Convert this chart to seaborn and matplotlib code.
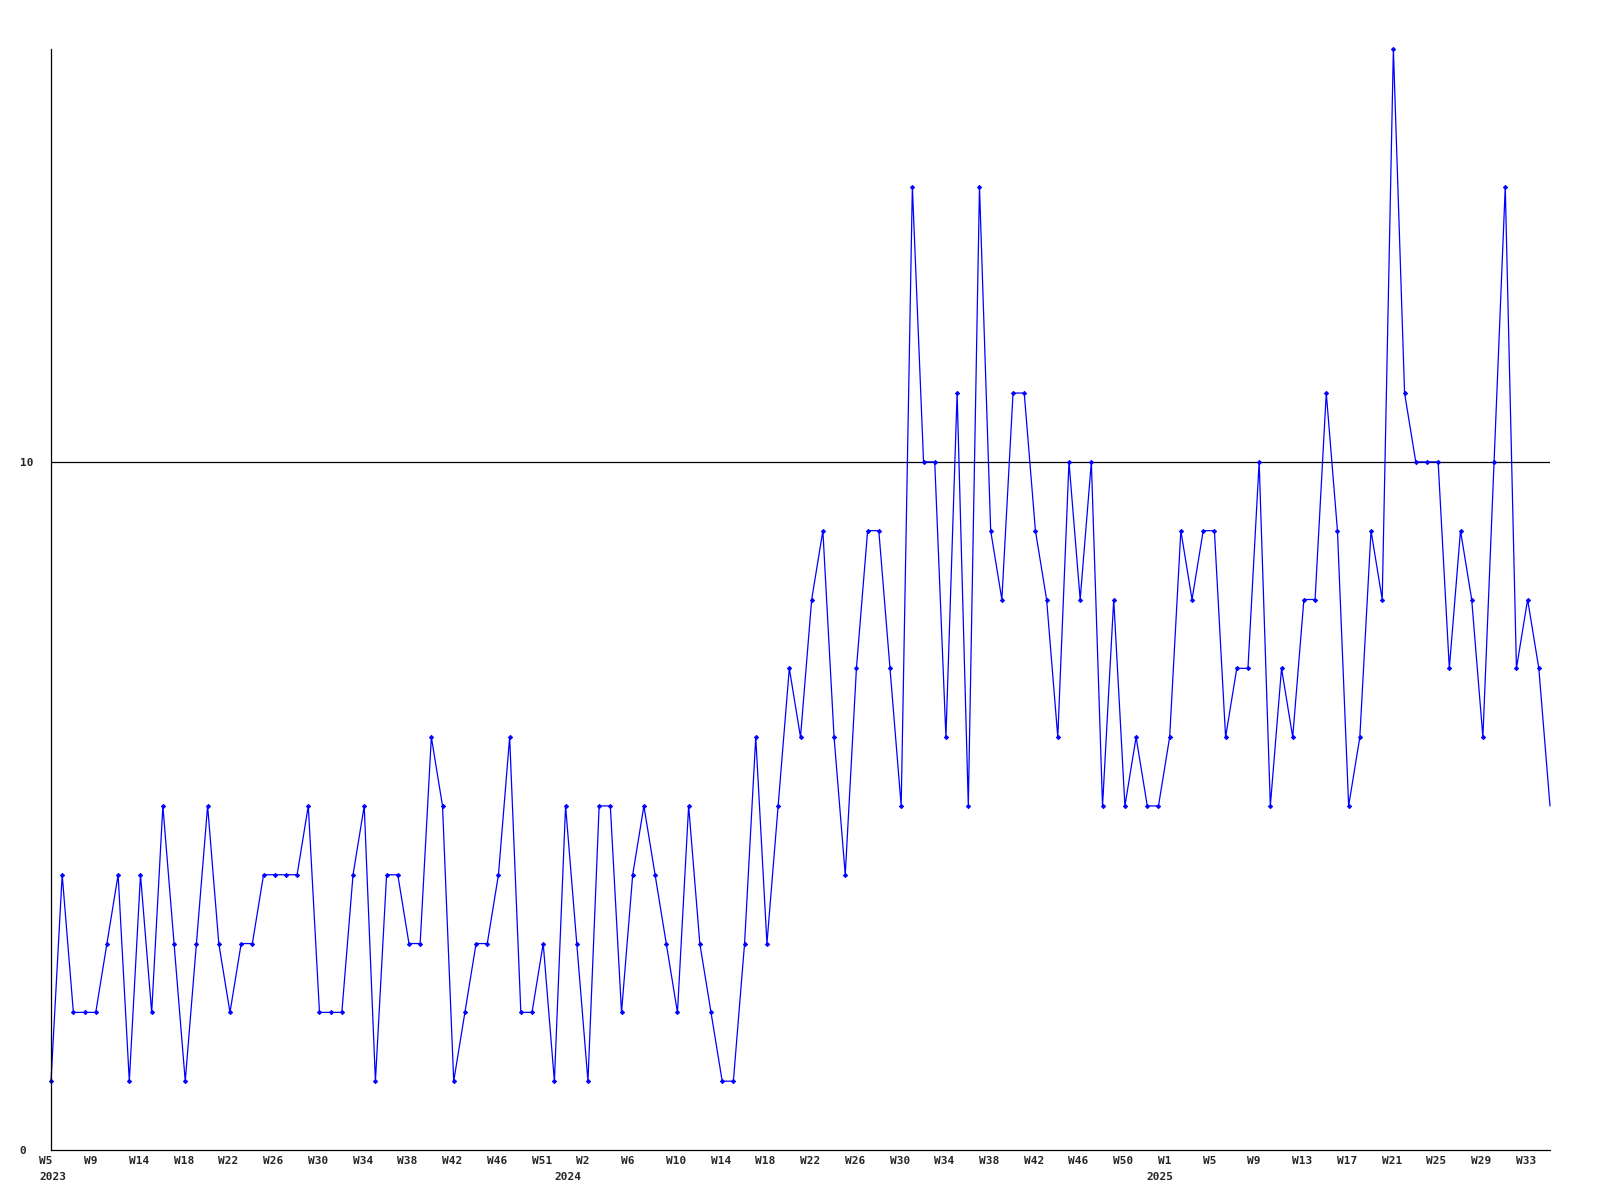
import pandas as pd
import matplotlib
matplotlib.use('Agg')
import matplotlib.pyplot as plt
import seaborn as sns

# weekly counts, one value per point (W5 2023 .. W35 2025)
counts = [
    1, 4, 2, 2, 2, 3, 4, 1, 4, 2, 5, 3, 1, 3, 5, 3, 2, 3, 3, 4,
    4, 4, 4, 5, 2, 2, 2, 4, 5, 1, 4, 4, 3, 3, 6, 5, 1, 2, 3, 3,
    4, 6, 2, 2, 3, 1, 5, 3, 1, 5, 5, 2, 4, 5, 4, 3, 2, 5, 3, 2,
    1, 1, 3, 6, 3, 5, 7, 6, 8, 9, 6, 4, 7, 9, 9, 7, 5, 14, 10, 10,
    6, 11, 5, 14, 9, 8, 11, 11, 9, 8, 6, 10, 8, 10, 5, 8, 5, 6, 5, 5,
    6, 9, 8, 9, 9, 6, 7, 7, 10, 5, 7, 6, 8, 8, 11, 9, 5, 6, 9, 8,
    16, 11, 10, 10, 10, 7, 9, 8, 6, 10, 14, 7, 8, 7, 5,
]

week_labels = [
    'W5', 'W9', 'W14', 'W18', 'W22', 'W26', 'W30', 'W34', 'W38', 'W42', 'W46', 'W51',
    'W2', 'W6', 'W10', 'W14', 'W18', 'W22', 'W26', 'W30', 'W34', 'W38', 'W42', 'W46', 'W50',
    'W1', 'W5', 'W9', 'W13', 'W17', 'W21', 'W25', 'W29', 'W33',
]
week_label_pos = list(range(0, 4 * len(week_labels), 4))

years = ['2023', '2024', '2025']
year_pos = [0, 46, 99]

df = pd.DataFrame({'step': range(len(counts)), 'value': counts})

sns.set_style('white')
plt.rcParams['font.family'] = ['DejaVu Sans Mono']
plt.rcParams['font.size'] = 8
plt.rcParams['font.weight'] = 'bold'

fig = plt.figure(figsize=(16, 12), dpi=100)
ax = fig.add_axes([51 / 1600, 1 - 1150 / 1200, (1550 - 51) / 1600, (1150 - 49) / 1200])

# the last point sits on the right edge without a marker
sns.lineplot(
    data=df, x='step', y='value', ax=ax,
    color='#0000ff', linewidth=0.9,
    marker='D', markersize=2.2, markeredgewidth=0.6,
    markeredgecolor='#0000ff', markerfacecolor='#0000ff',
    markevery=list(range(len(counts) - 1)),
    clip_on=False,
)

ax.set_xlim(0, len(counts) - 1)
ax.set_ylim(0, 16)

# horizontal reference line at 10
ax.axhline(10, color='black', linewidth=0.9, zorder=1)

ax.set_yticks([0, 10])
ax.set_yticklabels(['0', '10'], fontsize=8, fontweight='bold', ha='left')
ax.tick_params(axis='y', length=0, pad=22.5)

# week labels start a little left of their point, year below the first week of the year
ax.set_xticks(week_label_pos)
ax.set_xticklabels([])
ax.tick_params(axis='x', length=0)
for x, wk in zip(week_label_pos, week_labels):
    ax.annotate(wk, xy=(x, 0), xycoords=('data', 'axes fraction'),
                xytext=(-8.4, -7.9), textcoords='offset points',
                ha='left', va='center', fontsize=8, fontweight='bold')
for x, yr in zip(year_pos, years):
    ax.annotate(yr, xy=(x, 0), xycoords=('data', 'axes fraction'),
                xytext=(-8.4, -19.5), textcoords='offset points',
                ha='left', va='center', fontsize=8, fontweight='bold')

ax.set_xlabel('')
ax.set_ylabel('')

for spine in ['top', 'right']:
    ax.spines[spine].set_visible(False)
for spine in ['bottom', 'left']:
    ax.spines[spine].set_linewidth(0.9)
    ax.spines[spine].set_color('black')

fig.patch.set_facecolor('white')
ax.set_facecolor('white')

fig.savefig('out.png', dpi=100, facecolor='white')
